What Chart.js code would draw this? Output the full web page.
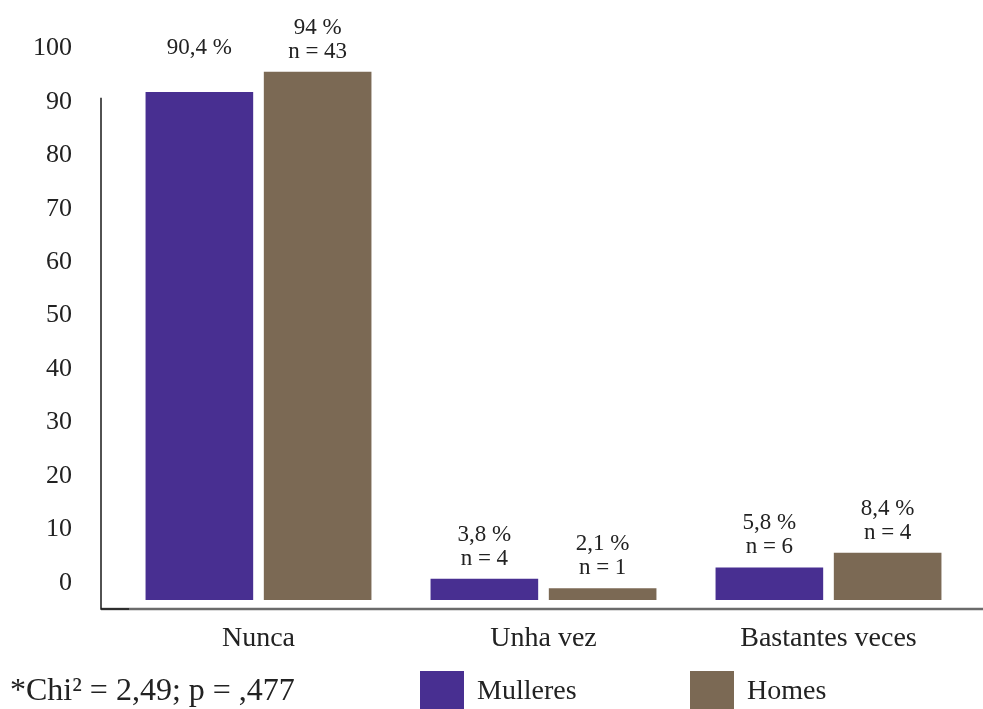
<!DOCTYPE html>
<html>
<head>
<meta charset="utf-8">
<script src="https://cdn.jsdelivr.net/npm/chart.js@4"></script>
<style>
  html, body { margin: 0; padding: 0; background: #fff; }
  #wrap { width: 983px; height: 709px; }
</style>
</head>
<body>
<div id="wrap"><canvas id="chart" width="983" height="709"></canvas></div>
<script>
// --- data ---
const CATEGORIES   = ['Nunca', 'Unha vez', 'Bastantes veces'];
const SERIES_NAMES = ['Mulleres', 'Homes'];
const MULLERES_PCT = [90.4, 3.8, 5.8];
const HOMES_PCT    = [94, 2.1, 8.4];
const MULLERES_N   = [null, 4, 6];
const HOMES_N      = [43, 1, 4];
const Y_TICKS      = [0, 10, 20, 30, 40, 50, 60, 70, 80, 90, 100];
const FOOTNOTE     = '*Chi\u00b2 = 2,49; p = ,477';

const COLORS = ['#482f91', '#7b6954'];
const TEXT   = '#222222';
const SERIF  = '"Liberation Serif", "Times New Roman", serif';

const fmtPct = v => String(v).replace('.', ',') + ' %';

// value labels above each bar: "x,x %" and "n = .." underneath
const barLabels = {
  id: 'barLabels',
  afterDatasetsDraw(chart) {
    const ctx = chart.ctx;
    ctx.save();
    ctx.font = '23px ' + SERIF;
    ctx.fillStyle = TEXT;
    ctx.textAlign = 'center';
    ctx.textBaseline = 'middle';
    chart.data.datasets.forEach((ds, di) => {
      chart.getDatasetMeta(di).data.forEach((bar, i) => {
        const n = ds.counts[i];
        ctx.fillText(fmtPct(ds.data[i]), bar.x, bar.y - 44);
        if (n != null) ctx.fillText('n = ' + n, bar.x, bar.y - 20);
      });
    });
    ctx.restore();
  }
};

// axis lines, footnote and legend row
const frame = {
  id: 'frame',
  afterDraw(chart) {
    const { ctx, chartArea } = chart;
    const yl = chart.scales.yl;
    const axisX = chartArea.left - 15;
    const axisY = chartArea.bottom + 9;
    ctx.save();
    ctx.strokeStyle = '#6b6b6b';
    ctx.lineWidth = 2.5;
    ctx.beginPath();
    ctx.moveTo(axisX, axisY);
    ctx.lineTo(chart.width, axisY);
    ctx.stroke();
    ctx.strokeStyle = '#1a1a1a';
    ctx.lineWidth = 1.5;
    ctx.beginPath();
    ctx.moveTo(axisX, yl.getPixelForValue(90) - 4);
    ctx.lineTo(axisX, axisY);
    ctx.lineTo(axisX + 28, axisY);
    ctx.stroke();

    ctx.fillStyle = TEXT;
    ctx.textBaseline = 'middle';
    ctx.textAlign = 'left';
    ctx.font = '32px ' + SERIF;
    ctx.fillText(FOOTNOTE, 10, 692);

    const legendX = [420, 690];
    ctx.font = '28px ' + SERIF;
    chart.data.datasets.forEach((ds, i) => {
      ctx.fillStyle = ds.backgroundColor;
      ctx.fillRect(legendX[i], 671, 44, 40);
      ctx.fillStyle = TEXT;
      ctx.fillText(ds.label, legendX[i] + 57, 692);
    });
    ctx.restore();
  }
};

new Chart(document.getElementById('chart'), {
  type: 'bar',
  data: {
    labels: CATEGORIES,
    datasets: [
      { label: SERIES_NAMES[0], data: MULLERES_PCT, counts: MULLERES_N, backgroundColor: COLORS[0] },
      { label: SERIES_NAMES[1], data: HOMES_PCT, counts: HOMES_N, backgroundColor: COLORS[1] },
    ],
  },
  options: {
    responsive: false,
    animation: false,
    categoryPercentage: 0.83,
    barPercentage: 0.91,
    layout: { padding: { top: 38, right: 12, bottom: 39, left: 0 } },
    plugins: {
      legend: { display: false },
      tooltip: { enabled: false },
    },
    scales: {
      x: {
        grid: { display: false, drawTicks: false },
        border: { display: false },
        ticks: { color: TEXT, font: { family: SERIF, size: 28 }, padding: 22 },
        afterFit: s => { s.height = 70; },
      },
      y: {
        display: false,
        min: 0,
        max: 100,
      },
      // label axis: the printed tick labels sit slightly off the bar scale in the original
      yl: {
        position: 'left',
        min: -3.18,
        max: 101.93,
        grid: { display: false, drawTicks: false },
        border: { display: false },
        ticks: { color: TEXT, font: { family: SERIF, size: 26 }, padding: 44 },
        afterBuildTicks: s => { s.ticks = Y_TICKS.map(v => ({ value: v })); },
        afterFit: s => { s.width = 116; s.paddingTop = 0; s.paddingBottom = 0; },
      },
    },
  },
  plugins: [barLabels, frame],
});
</script>
</body>
</html>
